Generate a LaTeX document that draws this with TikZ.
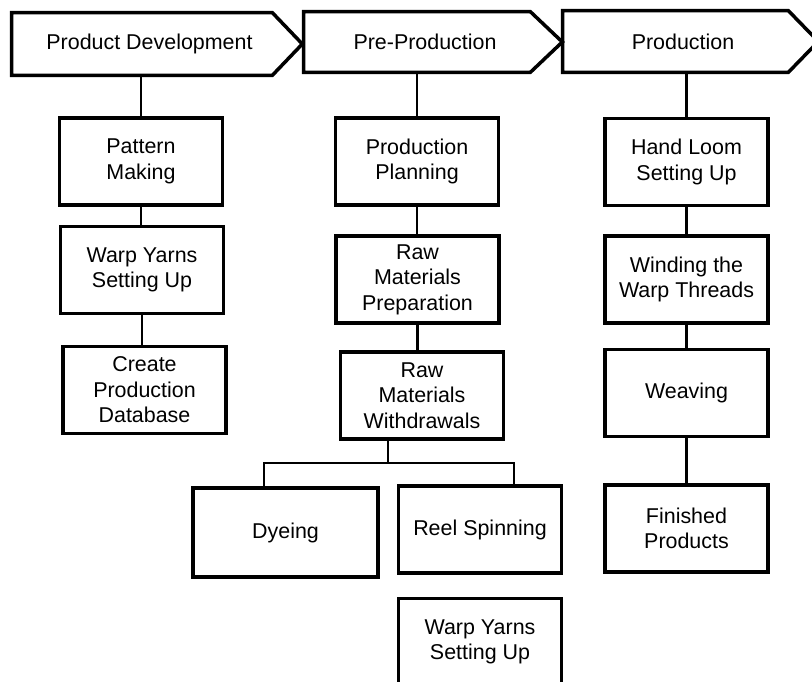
\documentclass[tikz,border=0pt]{standalone}
\usepackage{fontspec}
\setmainfont{Liberation Sans}

\begin{document}
\begin{tikzpicture}[x=0.02cm,y=-0.02cm,
  stage/.style={inner sep=0,font=\fontsize{12.2}{14.5}\selectfont},
  outline/.style={line width=2pt,line join=miter},
  task/.style={draw,line width=2pt,align=center,inner sep=0,minimum width=3.26cm,minimum height=1.74cm,font=\fontsize{12.2}{14.5}\selectfont},
  link/.style={line width=1.2pt}]
\useasboundingbox (0,0) rectangle (812,682);
\node[stage,minimum width=5.5cm,minimum height=1.24cm] (dev) at (149.5,44) {Product Development};
\node[stage,minimum width=4.84cm,minimum height=1.2cm] (pre) at (425,42) {Pre-Production};
\node[stage,minimum width=4.8cm,minimum height=1.22cm] (prod) at (683,41.5) {Production};
\draw[outline] (dev.north west) -- ([xshift=-0.3cm]dev.north east) -- ([xshift=0.3cm]dev.east) -- ([xshift=-0.3cm]dev.south east) -- (dev.south west) -- cycle;
\draw[outline] (pre.north west) -- ([xshift=-0.32cm]pre.north east) -- ([xshift=0.32cm]pre.east) -- ([xshift=-0.32cm]pre.south east) -- (pre.south west) -- cycle;
\draw[outline] (prod.north west) -- ([xshift=-0.3cm]prod.north east) -- ([xshift=0.3cm]prod.east) -- ([xshift=-0.3cm]prod.south east) -- (prod.south west) -- cycle;
\node[task] (pattern) at (141,161.5) {Pattern\\Making};
\node[task] (warpA) at (142,270) {Warp Yarns\\Setting Up};
\node[task] (database) at (144.5,390) {Create\\Production\\Database};
\node[task] (planning) at (417,161.5) {Production\\Planning};
\node[task] (prep) at (417.5,279.5) {Raw\\Materials\\Preparation};
\node[task] (withdraw) at (422,395.5) {Raw\\Materials\\Withdrawals};
\node[task,minimum width=3.7cm,minimum height=1.78cm] (dyeing) at (285.5,532.5) {Dyeing};
\node[task] (reel) at (480,529.5) {Reel Spinning};
\node[task] (warpB) at (480,642) {Warp Yarns\\Setting Up};
\node[task] (loom) at (686.5,162) {Hand Loom\\Setting Up};
\node[task] (winding) at (686.5,279.5) {Winding the\\Warp Threads};
\node[task] (weaving) at (686.5,393) {Weaving};
\node[task] (finished) at (686.5,528.5) {Finished\\Products};
\coordinate (fork) at (388,463);
\coordinate (forkL) at (264,463);
\coordinate (forkR) at (514,463);
\draw[link] (pattern.north) -- (pattern.north |- dev.south);
\draw[link] (pattern.south) -- (pattern.south |- warpA.north);
\draw[link] (warpA.south) -- (warpA.south |- database.north);
\draw[link] (planning.north) -- (planning.north |- pre.south);
\draw[link] (planning.south) -- (planning.south |- prep.north);
\draw[link] (prep.south) -- (prep.south |- withdraw.north);
\draw[link] (withdraw.south -| fork) -- (fork);
\draw[link] (dyeing.north -| forkL) -- (forkL) -- (forkR) -- (reel.north -| forkR);
\draw[link] (loom.north) -- (loom.north |- prod.south);
\draw[link] (loom.south) -- (loom.south |- winding.north);
\draw[link] (winding.south) -- (winding.south |- weaving.north);
\draw[link] (weaving.south) -- (weaving.south |- finished.north);
\end{tikzpicture}
\end{document}
